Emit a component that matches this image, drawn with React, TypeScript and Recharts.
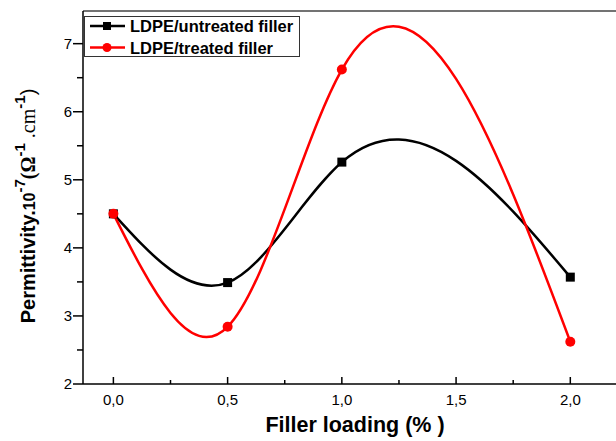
import React from "react";
import { LineChart, Line, XAxis, YAxis, ReferenceLine, Legend } from "recharts";

const loading = [0, 0.5, 1, 2];
const untreated = [4.5, 3.49, 5.26, 3.57];
const treated = [4.5, 2.84, 6.62, 2.62];
const xTicks = [0, 0.25, 0.5, 0.75, 1, 1.25, 1.5, 1.75, 2];
const yTicks = [2, 2.5, 3, 3.5, 4, 4.5, 5, 5.5, 6, 6.5, 7];

const X_MIN = -0.133;
const X_MAX = 2.2;
const Y_MIN = 2;
const Y_MAX = 7.48;

const W = 616;
const H = 441;
const PLOT_LEFT = 83;
const PLOT_BOTTOM = 384;
const FONT = "'Liberation Sans', Arial, sans-serif";
const SERIF = "'Liberation Serif', 'Times New Roman', serif";

const data = loading.map((x, i) => ({ x, untreated: untreated[i], treated: treated[i] }));

// cubic spline y(x) with natural ends, like Origin's "spline" connection
function splineX(context: any) {
  let xs: number[] = [];
  let ys: number[] = [];
  return {
    areaStart() {},
    areaEnd() {},
    lineStart() {
      xs = [];
      ys = [];
    },
    point(x: number, y: number) {
      xs.push(+x);
      ys.push(+y);
    },
    lineEnd() {
      const n = xs.length;
      if (!n) return;
      context.moveTo(xs[0], ys[0]);
      if (n < 3) {
        for (let i = 1; i < n; i++) context.lineTo(xs[i], ys[i]);
        return;
      }
      const h: number[] = [];
      for (let i = 0; i < n - 1; i++) h.push(xs[i + 1] - xs[i]);
      const a: number[] = [], b: number[] = [], c: number[] = [], d: number[] = [];
      for (let i = 1; i < n - 1; i++) {
        a.push(h[i - 1]);
        b.push(2 * (h[i - 1] + h[i]));
        c.push(h[i]);
        d.push(6 * ((ys[i + 1] - ys[i]) / h[i] - (ys[i] - ys[i - 1]) / h[i - 1]));
      }
      const m = b.length;
      for (let i = 1; i < m; i++) {
        const w = a[i] / b[i - 1];
        b[i] -= w * c[i - 1];
        d[i] -= w * d[i - 1];
      }
      const sol = new Array(m).fill(0);
      sol[m - 1] = d[m - 1] / b[m - 1];
      for (let i = m - 2; i >= 0; i--) sol[i] = (d[i] - c[i] * sol[i + 1]) / b[i];
      const M = [0, ...sol, 0];
      for (let i = 0; i < n - 1; i++) {
        const hi = h[i];
        const s = (ys[i + 1] - ys[i]) / hi;
        const d0 = s - (hi * (2 * M[i] + M[i + 1])) / 6;
        const d1 = s + (hi * (M[i] + 2 * M[i + 1])) / 6;
        context.bezierCurveTo(
          xs[i] + hi / 3,
          ys[i] + (d0 * hi) / 3,
          xs[i + 1] - hi / 3,
          ys[i + 1] - (d1 * hi) / 3,
          xs[i + 1],
          ys[i + 1]
        );
      }
    },
  };
}

const isMajor = (v: number) => Math.abs(v * 2 - Math.round(v * 2)) < 1e-6;
const isInt = (v: number) => Math.abs(v - Math.round(v)) < 1e-6;

function XTick(props: any) {
  const { payload } = props;
  const cx = payload.coordinate;
  const major = isMajor(payload.value);
  return (
    <g>
      <line x1={cx} x2={cx} y1={PLOT_BOTTOM} y2={PLOT_BOTTOM - (major ? 7 : 4)} stroke="#000" strokeWidth={1.5} />
      {major && (
        <text x={cx} y={PLOT_BOTTOM + 21} textAnchor="middle" fontSize={15} fontFamily={FONT} fill="#000">
          {payload.value.toFixed(1).replace(".", ",")}
        </text>
      )}
    </g>
  );
}

function YTick(props: any) {
  const { payload } = props;
  const cy = payload.coordinate;
  const major = isInt(payload.value);
  return (
    <g>
      <line x1={PLOT_LEFT} x2={PLOT_LEFT - (major ? 10 : 6)} y1={cy} y2={cy} stroke="#000" strokeWidth={1.5} />
      {major && (
        <text x={PLOT_LEFT - 11} y={cy + 5} textAnchor="end" fontSize={15} fontFamily={FONT} fill="#000">
          {payload.value}
        </text>
      )}
    </g>
  );
}

function SquareDot(props: any) {
  const { cx, cy } = props;
  return <rect key={`s-${cx}`} x={cx - 4.5} y={cy - 4.5} width={9} height={9} fill="#000" />;
}

function CircleDot(props: any) {
  const { cx, cy } = props;
  return <circle key={`c-${cx}`} cx={cx} cy={cy} r={5} fill="#ff0000" />;
}

function YLabel() {
  return (
    <text
      transform="translate(35,206) rotate(-90)"
      textAnchor="middle"
      fontSize={20}
      fontWeight="bold"
      fontFamily={FONT}
      fill="#000"
    >
      Permittivity.
      <tspan fontSize={16}>10</tspan>
      <tspan dy={-10} fontSize={15}>-7</tspan>
      <tspan dy={10} fontFamily={SERIF}>(Ω</tspan>
      <tspan dy={-10} fontSize={15}>-1</tspan>
      <tspan dy={10} fontFamily={SERIF} fontWeight="normal"> .cm</tspan>
      <tspan dy={-10} fontSize={15}>-1</tspan>
      <tspan dy={10} fontWeight="normal">)</tspan>
    </text>
  );
}

function LegendBox() {
  const rows = [
    { name: "LDPE/untreated filler", color: "#000", square: true },
    { name: "LDPE/treated filler", color: "#ff0000", square: false },
  ];
  return (
    <svg width={216} height={42} style={{ display: "block" }}>
      <rect x={0.5} y={0.5} width={215} height={40} fill="#fff" stroke="#333" strokeWidth={1} />
      {rows.map((r, i) => {
        const cy = 10 + i * 21.5;
        return (
          <g key={r.name}>
            <line x1={6} x2={41} y1={cy} y2={cy} stroke={r.color} strokeWidth={2.5} />
            {r.square ? (
              <rect x={19} y={cy - 4} width={8} height={8} fill={r.color} />
            ) : (
              <circle cx={23} cy={cy} r={4.5} fill={r.color} />
            )}
            <text x={46} y={cy + 6} fontSize={16.5} fontWeight="bold" fontFamily={FONT} fill="#000">
              {r.name}
            </text>
          </g>
        );
      })}
    </svg>
  );
}

export default function App() {
  return (
    <div style={{ position: "absolute", left: 0, top: 0, width: W, height: H, background: "#fff", overflow: "hidden" }}>
      <LineChart width={W} height={H} data={data} margin={{ top: 11, right: 0, left: 0, bottom: 0 }}>
        <XAxis
          type="number"
          dataKey="x"
          domain={[X_MIN, X_MAX]}
          ticks={xTicks}
          interval={0}
          allowDataOverflow
          height={57}
          axisLine={{ stroke: "#000", strokeWidth: 1.5 }}
          tickLine={false}
          tick={<XTick />}
          label={() => (
            <text x={355} y={432} textAnchor="middle" fontSize={21.5} fontWeight="bold" fontFamily={FONT} fill="#000">
              Filler loading (% )
            </text>
          )}
        />
        <YAxis
          type="number"
          domain={[Y_MIN, Y_MAX]}
          ticks={yTicks}
          interval={0}
          allowDataOverflow
          width={PLOT_LEFT}
          axisLine={{ stroke: "#000", strokeWidth: 1.5 }}
          tickLine={false}
          tick={<YTick />}
          label={YLabel}
        />
        <ReferenceLine y={Y_MAX} stroke="#444" strokeWidth={1.5} />
        <Legend
          layout="vertical"
          align="center"
          verticalAlign="middle"
          content={() => <LegendBox />}
          wrapperStyle={{ left: 84, top: 16, width: 216 }}
        />
        <Line
          dataKey="untreated"
          name="LDPE/untreated filler"
          type={splineX as any}
          stroke="#000"
          strokeWidth={2.5}
          dot={SquareDot}
          activeDot={false}
          isAnimationActive={false}
        />
        <Line
          dataKey="treated"
          name="LDPE/treated filler"
          type={splineX as any}
          stroke="#ff0000"
          strokeWidth={2.5}
          dot={CircleDot}
          activeDot={false}
          isAnimationActive={false}
        />
      </LineChart>
    </div>
  );
}
